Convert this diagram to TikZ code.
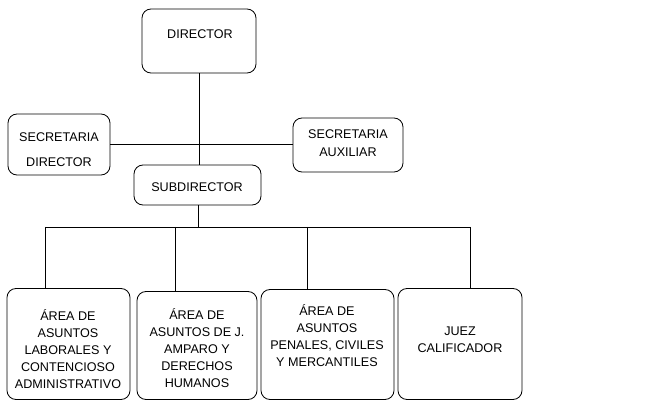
\documentclass[tikz,border=0pt]{standalone}
\usepackage{fontspec}
\setmainfont{Liberation Sans}
\begin{document}
\begin{tikzpicture}[x=1pt,y=-1pt,
  box/.style={draw=black, line width=0.8pt, rounded corners=9pt, inner sep=0pt},
  txt/.style={align=center, font=\fontsize{12.6}{17}\selectfont, inner sep=0pt},
  conn/.style={draw=black, line width=0.7pt}]
\useasboundingbox (0,0) rectangle (657,401);
% boxes
\node[box, minimum width=114pt, minimum height=64pt] (dir) at (199,41) {};
\node[box, minimum width=102pt, minimum height=61pt] (secdir) at (59,144.5) {};
\node[box, minimum width=110pt, minimum height=54pt] (secaux) at (348,145) {};
\node[box, minimum width=127pt, minimum height=40pt] (sub) at (197.5,185) {};
\node[box, minimum width=123pt, minimum height=111pt] (a1) at (68.5,344) {};
\node[box, minimum width=120pt, minimum height=108pt] (a2) at (197,345.5) {};
\node[box, minimum width=133pt, minimum height=110pt] (a3) at (327.5,344.5) {};
\node[box, minimum width=124pt, minimum height=111pt] (a4) at (460,344) {};
% texts
\node[txt] (tdir) at (200,34) {DIRECTOR};
\node[txt, font=\fontsize{12.6}{25}\selectfont] (tsecdir) at (59,149.5) {SECRETARIA\\DIRECTOR};
\node[txt, font=\fontsize{12.6}{18}\selectfont] (tsecaux) at (348,143) {SECRETARIA\\AUXILIAR};
\node[txt] (tsub) at (197,187) {SUBDIRECTOR};
\node[txt] (ta1) at (68,349) {ÁREA DE\\ASUNTOS\\LABORALES Y\\CONTENCIOSO\\ADMINISTRATIVO};
\node[txt] (ta2) at (197,348) {ÁREA DE\\ASUNTOS DE J.\\AMPARO Y\\DERECHOS\\HUMANOS};
\node[txt] (ta3) at (327,335.5) {ÁREA DE\\ASUNTOS\\PENALES, CIVILES\\Y MERCANTILES};
\node[txt] (ta4) at (460,340) {JUEZ\\CALIFICADOR};
% connectors
\draw[conn] (dir.south) -- (dir.south |- sub.north);
\draw[conn] (secdir.east) -- (secdir.east -| secaux.west);
\coordinate (j) at (198,227);
\coordinate (b1) at (45,227);
\coordinate (b2) at (175.5,227);
\coordinate (b3) at (307,227);
\coordinate (b4) at (470,227);
\draw[conn] (sub.south -| j) -- (j);
\draw[conn] (b1) -- (b4);
\draw[conn] (b1) -- (b1 |- a1.north);
\draw[conn] (b2) -- (b2 |- a2.north);
\draw[conn] (b3) -- (b3 |- a3.north);
\draw[conn] (b4) -- (b4 |- a4.north);
\end{tikzpicture}
\end{document}
